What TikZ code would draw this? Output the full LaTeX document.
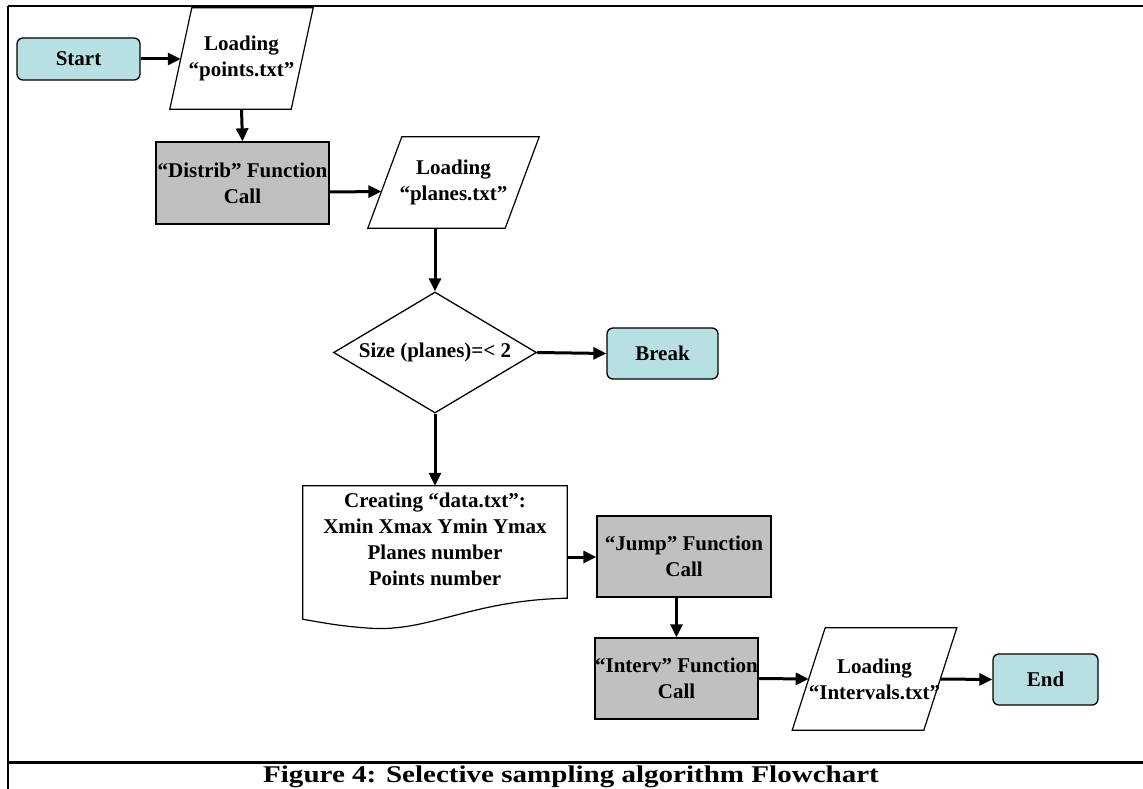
\documentclass[tikz,border=0pt]{standalone}
\usepackage{fontspec}
\setmainfont{Liberation Serif}
\usetikzlibrary{shapes.geometric,arrows.meta,calc}
\definecolor{termfill}{HTML}{B8E0E3}
\definecolor{procfill}{HTML}{C0C0C0}
\newcommand{\paraoutline}[2]{\draw[outline] ([xshift=#2]#1.north west) -- ([xshift=#2]#1.north east) -- ([xshift=-#2]#1.south east) -- ([xshift=-#2]#1.south west) -- cycle;}
\begin{document}
\begin{tikzpicture}[x=1pt,y=-1pt,
  txt/.style={font=\fontsize{21}{26}\selectfont\bfseries, align=center, inner sep=0pt},
  term/.style={txt, draw, rounded corners=6pt, fill=termfill, line width=1.3pt},
  proc/.style={txt, draw, fill=procfill, line width=1.3pt},
  io/.style={txt},
  outline/.style={draw, line width=1.2pt, line join=miter},
  arr/.style={line width=3pt, -{Triangle[length=13pt,width=12pt]}},
]
\useasboundingbox (0,0) rectangle (1143,789);

% frame
\draw[line width=2.5pt] (8,6) -- (1143,6);
\draw[line width=1.5pt] (8,6) -- (8,789);
\draw[line width=3pt] (8,762) -- (1143,762);
\node[font=\fontsize{24}{26}\selectfont\bfseries, inner sep=0pt] (cap) at (571,777) {\scalebox{1.21}[1]{Figure 4: Selective sampling algorithm Flowchart}};

% nodes
\node[term, minimum width=123pt, minimum height=42pt] (start) at (78.5,59) {Start};
\node[io, minimum width=121pt, minimum height=101pt] (points) at (241.5,58.5) {Loading\\“points.txt”};
\paraoutline{points}{11}
\node[proc, minimum width=173pt, minimum height=82pt] (distrib) at (242.5,183) {“Distrib” Function\\Call};
\node[io, minimum width=137pt, minimum height=91pt] (planes) at (453.5,182.5) {Loading\\“planes.txt”};
\paraoutline{planes}{17}
\node[diamond, draw, aspect=1.68, minimum width=203pt, minimum height=121pt, line width=1.3pt, txt] (cond) at (435,352.5) {Size (planes)=< 2};
\node[term, minimum width=111pt, minimum height=51pt] (break) at (662.5,353.5) {Break};
\node[txt, minimum width=264pt, minimum height=106pt] (doc) at (435,539) {Creating “data.txt”:\\Xmin Xmax Ymin Ymax\\Planes number\\Points number};
\draw[outline] (doc.north west) -- (doc.north east) -- ($(doc.south east)+(0,6)$)
  .. controls ($(doc.south east)+(-97,8)$) and ($(doc.south west)+(127,40)$) .. ($(doc.south west)+(67,36)$)
  .. controls ($(doc.south west)+(37,34)$) and ($(doc.south west)+(17,30)$) .. ($(doc.south west)+(0,27)$) -- cycle;
\node[proc, minimum width=174pt, minimum height=81pt] (jump) at (684,556.5) {“Jump” Function\\Call};
\node[proc, minimum width=161pt, minimum height=81pt] (interv) at (676.5,678.5) {“Interv” Function\\Call};
\node[io, minimum width=128.5pt, minimum height=102pt] (intervals) at (874.5,679) {Loading\\“Intervals.txt”};
\paraoutline{intervals}{16.5}
\node[term, minimum width=105pt, minimum height=51pt] (end) at (1045.5,679.5) {End};

% connectors
\draw[arr] (start.east) -- (start.east -| points.west);
\draw[arr] (points.south) -- (distrib.north);
\draw[arr] ([yshift=-9pt]distrib.east) -- ([xshift=-3.4pt,yshift=-9pt]planes.west);
\draw[arr] (planes.south -| cond.north) -- (cond.north);
\draw[arr] (cond.east) -- (break.west);
\draw[arr] (cond.south) -- (doc.north);
\coordinate (docout) at ([yshift=-18pt]doc.east);
\draw[arr] (docout) -- (docout -| jump.west);
\draw[arr] (jump.south -| interv.north) -- (interv.north);
\draw[arr] (interv.east) -- (intervals.west);
\draw[arr] (intervals.east) -- (end.west);
\end{tikzpicture}
\end{document}
